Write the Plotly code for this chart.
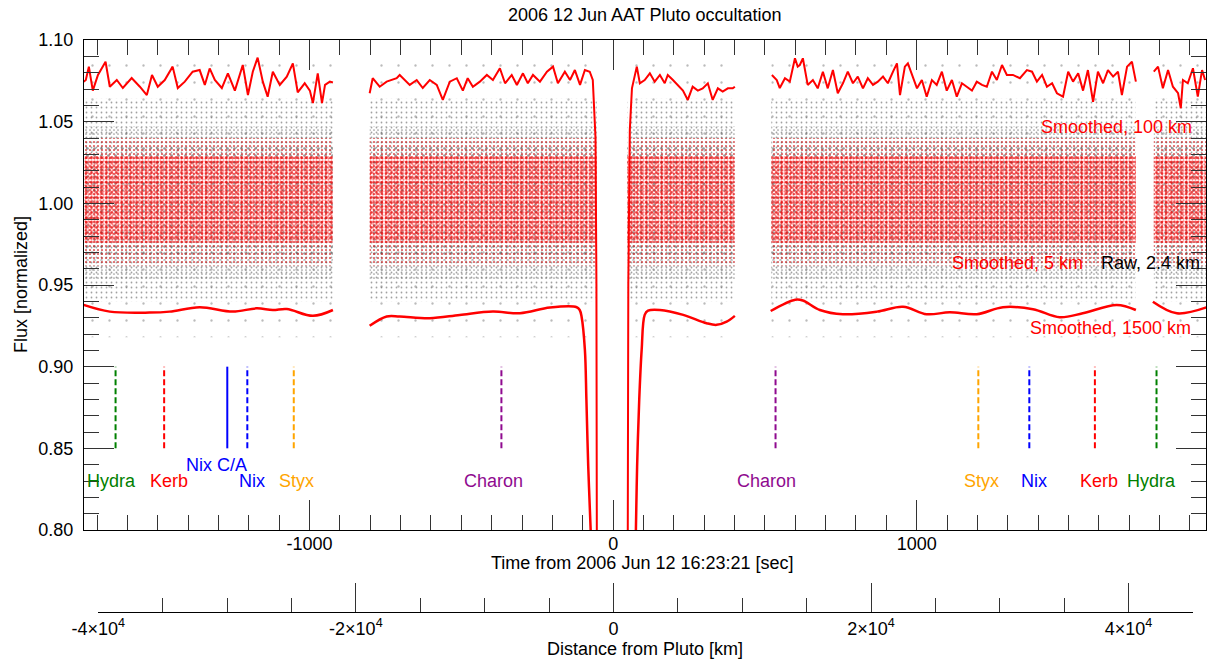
import plotly.graph_objects as go

FONT = "Liberation Sans, Arial, Helvetica, sans-serif"

# ---------------- data ----------------
# Smoothed 100 km light curve (offset +0.075), per data segment: time [s], flux
s100_A_t = [-1744, -1737, -1727, -1714, -1697, -1672, -1658, -1635, -1615, -1586, -1559, -1536, -1519, -1500,
            -1477, -1451, -1434, -1411, -1385, -1362, -1345, -1329, -1312, -1289, -1269, -1246, -1220, -1203,
            -1187, -1171, -1154, -1138, -1121, -1098, -1075, -1055, -1039, -1016, -999, -989, -973, -959, -949,
            -933, -923]
s100_A_f = [1.0745, 1.0755, 1.0837, 1.0690, 1.0786, 1.0867, 1.0714, 1.0755, 1.0706, 1.0767, 1.0714, 1.0663,
            1.0786, 1.0714, 1.0755, 1.0837, 1.0706, 1.0745, 1.0806, 1.0816, 1.0725, 1.0826, 1.0755, 1.0706,
            1.0796, 1.0690, 1.0847, 1.0663, 1.0806, 1.0892, 1.0745, 1.0653, 1.0806, 1.0725, 1.0776, 1.0857,
            1.0680, 1.0735, 1.0690, 1.0614, 1.0796, 1.0614, 1.0725, 1.0745, 1.0740]
s100_B_t = [-802, -792, -769, -746, -713, -703, -670, -647, -627, -604, -581, -561, -538, -515, -495, -479,
            -462, -439, -416, -396, -373, -356, -334, -317, -297, -281, -264, -241, -218, -198, -182, -159,
            -142, -126, -109, -93, -77, -67, -58, -55, -52]
s100_B_f = [1.0674, 1.0766, 1.0714, 1.0745, 1.0766, 1.0786, 1.0725, 1.0755, 1.0706, 1.0755, 1.0725, 1.0633,
            1.0745, 1.0766, 1.0690, 1.0766, 1.0714, 1.0745, 1.0786, 1.0755, 1.0827, 1.0735, 1.0786, 1.0725,
            1.0796, 1.0735, 1.0786, 1.0745, 1.0806, 1.0837, 1.0735, 1.0806, 1.0755, 1.0816, 1.0725, 1.0816,
            1.0806, 1.0755, 1.0400, 0.9500, 0.6000]
s100_C_t = [46, 50, 55, 62, 78, 88, 104, 121, 137, 154, 170, 180, 197, 213, 230, 246, 262, 279, 295, 312, 328,
            345, 361, 378, 394, 401]
s100_C_f = [0.6000, 0.9500, 1.0450, 1.0704, 1.0837, 1.0735, 1.0755, 1.0796, 1.0745, 1.0786, 1.0735, 1.0786,
            1.0755, 1.0725, 1.0690, 1.0633, 1.0714, 1.0690, 1.0704, 1.0735, 1.0633, 1.0704, 1.0684, 1.0704,
            1.0704, 1.0714]
s100_D_t = [523, 539, 549, 566, 582, 599, 608, 615, 625, 641, 658, 674, 691, 707, 724, 740, 757, 773, 790, 806,
            823, 839, 856, 872, 889, 905, 922, 935, 945, 961, 971, 988, 1001, 1017, 1033, 1050, 1066, 1083,
            1099, 1116, 1132, 1149, 1165, 1182, 1198, 1215, 1231, 1248, 1264, 1281, 1297, 1317, 1340, 1363,
            1380, 1396, 1413, 1429, 1446, 1462, 1482, 1499, 1515, 1532, 1548, 1564, 1581, 1597, 1614, 1630,
            1647, 1663, 1676, 1693, 1709, 1722]
s100_D_f = [1.0786, 1.0755, 1.0706, 1.0766, 1.0745, 1.0888, 1.0837, 1.0847, 1.0888, 1.0725, 1.0755, 1.0704,
            1.0806, 1.0704, 1.0816, 1.0674, 1.0735, 1.0806, 1.0735, 1.0776, 1.0704, 1.0766, 1.0725, 1.0745,
            1.0776, 1.0735, 1.0806, 1.0857, 1.0663, 1.0837, 1.0857, 1.0776, 1.0704, 1.0755, 1.0653, 1.0755,
            1.0725, 1.0806, 1.0690, 1.0755, 1.0653, 1.0735, 1.0714, 1.0690, 1.0745, 1.0725, 1.0714, 1.0806,
            1.0755, 1.0847, 1.0786, 1.0786, 1.0766, 1.0816, 1.0806, 1.0745, 1.0786, 1.0714, 1.0735, 1.0674,
            1.0653, 1.0806, 1.0745, 1.0796, 1.0690, 1.0816, 1.0622, 1.0806, 1.0735, 1.0816, 1.0776, 1.0806,
            1.0663, 1.0837, 1.0867, 1.0745]
s100_E_t = [1781, 1795, 1811, 1828, 1844, 1861, 1870, 1877, 1893, 1910, 1926, 1940, 1950]
s100_E_f = [1.0806, 1.0837, 1.0704, 1.0816, 1.0714, 1.0674, 1.0582, 1.0755, 1.0735, 1.0827, 1.0653, 1.0816,
            1.0755]

# Smoothed 1500 km light curve (offset -0.065)
s1500_A_t = [-1744, -1658, -1527, -1461, -1362, -1253, -1174, -1121, -1075, -989, -923]
s1500_A_f = [0.9378, 0.9337, 0.9331, 0.9337, 0.9364, 0.9337, 0.9357, 0.9347, 0.9353, 0.9311, 0.9347]
s1500_B_t = [-802, -746, -703, -604, -505, -396, -307, -208, -120, -110, -104, -93, -88, -82, -74, -60]
s1500_B_f = [0.9250, 0.9307, 0.9307, 0.9297, 0.9317, 0.9337, 0.9327, 0.9362, 0.9364, 0.9347, 0.9307, 0.9103,
             0.8797, 0.8389, 0.8000, 0.7000]
s1500_C_t = [60, 75, 79, 86, 94, 104, 115, 154, 231, 308, 341, 374, 401]
s1500_C_f = [0.7000, 0.8000, 0.8389, 0.8797, 0.9103, 0.9317, 0.9343, 0.9347, 0.9317, 0.9266, 0.9256, 0.9276,
             0.9311]
s1500_D_t = [519, 600, 625, 681, 757, 869, 955, 1033, 1109, 1198, 1284, 1383, 1471, 1547, 1659, 1722]
s1500_D_f = [0.9341, 0.9410, 0.9405, 0.9347, 0.9321, 0.9337, 0.9367, 0.9321, 0.9333, 0.9321, 0.9364, 0.9352,
             0.9303, 0.9327, 0.9378, 0.9347]
s1500_E_t = [1778, 1857, 1956]
s1500_E_f = [0.9398, 0.9327, 0.9364]

# Extent of the raw / 5 km point clouds (time of each data segment)
cloud_start = [-1760, -802, 46, 521, 1781]
cloud_end = [-923, -54, 401, 1722, 1960]
# flux spread of the point clouds (low, high)
raw_sparse = (0.918, 1.090)
raw_outer = (0.940, 1.064)
raw_inner = (0.953, 1.047)
raw_core = (0.965, 1.035)
red_outer = (0.962, 1.040)
red_core = (0.976, 1.029)

# Satellite closest-approach markers
moon_names = ["Hydra", "Kerb", "Nix C/A", "Nix", "Styx", "Charon", "Charon", "Styx", "Nix", "Kerb", "Hydra"]
moon_times = [-1639, -1479, -1271, -1205, -1052, -368, 535, 1203, 1371, 1587, 1790]
moon_colors = ["#008000", "#ff0000", "#0000ff", "#0000ff", "#ffa500", "#8f0a8f", "#8f0a8f", "#ffa500",
               "#0000ff", "#ff0000", "#008000"]
moon_dashes = ["dash", "dash", "solid", "dash", "dash", "dash", "dash", "dash", "dash", "dash", "dash"]
marker_range = [0.85, 0.90]

# Axis ticks
time_ticks = [-1000, 0, 1000]
flux_ticks = [0.80, 0.85, 0.90, 0.95, 1.00, 1.05, 1.10]
dist_ticks = [-40000, -20000, 0, 20000, 40000]
dist_labels = ["-4×10<sup>4</sup>", "-2×10<sup>4</sup>", "0", "2×10<sup>4</sup>", "4×10<sup>4</sup>"]


def join(parts):
    xs, ys = [], []
    for t, f in parts:
        if xs:
            xs.append(None)
            ys.append(None)
        xs.extend(t)
        ys.extend(f)
    return xs, ys


fig = go.Figure()

# point clouds drawn as stippled bands
layers = [
    (raw_sparse, "#777777", 17, 0.015),
    (raw_outer, "#444444", 5, 0.10),
    (raw_inner, "#333333", 4, 0.14),
    (raw_core, "#333333", 7, 0.12),
    (red_outer, "#ff0000", 4, 0.22),
    (red_core, "#ff0000", 3, 0.45),
    (red_core, "#ff0000", 5, 0.28),
]
for (lo, hi), col, sz, sol in layers:
    xs, ys = [], []
    for s, e in zip(cloud_start, cloud_end):
        if xs:
            xs.append(None)
            ys.append(None)
        xs += [s, e, e, s, s]
        ys += [lo, lo, hi, hi, lo]
    fig.add_trace(go.Scatter(x=xs, y=ys, mode="lines", line=dict(width=0), fill="toself",
                             fillcolor="rgba(0,0,0,0)",
                             fillpattern=dict(shape=".", fgcolor=col, size=sz, solidity=sol),
                             hoverinfo="skip", showlegend=False))

x100, y100 = join([(s100_A_t, s100_A_f), (s100_B_t, s100_B_f), (s100_C_t, s100_C_f),
                   (s100_D_t, s100_D_f), (s100_E_t, s100_E_f)])
fig.add_trace(go.Scatter(x=x100, y=y100, mode="lines", line=dict(color="#ff0000", width=2),
                         showlegend=False))

x15, y15 = join([(s1500_A_t, s1500_A_f), (s1500_B_t, s1500_B_f), (s1500_C_t, s1500_C_f),
                 (s1500_D_t, s1500_D_f), (s1500_E_t, s1500_E_f)])
fig.add_trace(go.Scatter(x=x15, y=y15, mode="lines", line=dict(color="#ff0000", width=2.5, shape="spline"),
                         showlegend=False))

for t, col, dash in zip(moon_times, moon_colors, moon_dashes):
    fig.add_trace(go.Scatter(x=[t, t], y=marker_range, mode="lines",
                             line=dict(color=col, width=2, dash="6px,3px" if dash == "dash" else "solid"),
                             showlegend=False, hoverinfo="skip"))

# invisible trace so the distance axis subplot exists
fig.add_trace(go.Scatter(x=[dist_ticks[0], dist_ticks[-1]], y=[0, 0], xaxis="x2", yaxis="y2", mode="lines",
                         line=dict(width=0), showlegend=False, hoverinfo="skip"))

# moon labels
label_x = [-1653, -1463, -1307, -1190, -1043, -395, 505, 1212, 1387, 1600, 1774]
label_y = [0.8297, 0.8297, 0.8399, 0.8297, 0.8297, 0.8297, 0.8297, 0.8297, 0.8297, 0.8297, 0.8297]
for name, col, lx, ly in zip(moon_names, moon_colors, label_x, label_y):
    fig.add_annotation(x=lx, y=ly, xref="x", yref="y", text=name, showarrow=False,
                       font=dict(color=col, size=18, family=FONT), xanchor="center", yanchor="middle")

curve_labels = [
    ("Smoothed, 100 km", "#ff0000", 1912, 1.0468, "right"),
    ("Smoothed, 5 km", "#ff0000", 1556, 0.9635, "right"),
    ("Raw, 2.4 km", "#000000", 1602, 0.9635, "left"),
    ("Smoothed, 1500 km", "#ff0000", 1909, 0.9237, "right"),
]
for txt, col, lx, ly, anc in curve_labels:
    fig.add_annotation(x=lx, y=ly, xref="x", yref="y", text=txt, showarrow=False,
                       font=dict(color=col, size=18, family=FONT), xanchor=anc, yanchor="middle")

# titles
fig.add_annotation(x=0.5, y=1.0437, xref="paper", yref="paper", text="2006 12 Jun AAT Pluto occultation",
                   showarrow=False, font=dict(size=18, family=FONT), xanchor="center", yanchor="middle")
fig.add_annotation(x=0.4982, y=0.0857, xref="paper", yref="paper", text="Time from 2006 Jun 12 16:23:21 [sec]",
                   showarrow=False, font=dict(size=18, family=FONT), xanchor="center", yanchor="middle")
fig.add_annotation(x=0.5, y=-0.0655, xref="paper", yref="paper", text="Distance from Pluto [km]",
                   showarrow=False, font=dict(size=18, family=FONT), xanchor="center", yanchor="middle")
fig.add_annotation(x=-0.0561, y=0.5717, xref="paper", yref="paper", text="Flux [normalized]", textangle=-90,
                   showarrow=False, font=dict(size=18, family=FONT), xanchor="center", yanchor="middle")

tick_col = "#333333"
fig.update_layout(
    width=1210, height=665,
    margin=dict(l=84, r=4, t=40, b=53, autoexpand=False),
    plot_bgcolor="white", paper_bgcolor="white",
    showlegend=False,
    font=dict(family=FONT, size=18, color="black"),
    xaxis=dict(domain=[0, 1], anchor="y", range=[-1743, 1953], tickmode="array", tickvals=time_ticks,
               ticktext=[str(v) for v in time_ticks], ticks="inside", ticklen=30, tickwidth=1,
               tickcolor=tick_col, showline=True, linecolor="black", linewidth=1, mirror="ticks",
               minor=dict(dtick=100, tick0=0, ticklen=15, ticks="inside", tickcolor=tick_col, tickwidth=1),
               showgrid=False, zeroline=False, tickfont=dict(size=18, family=FONT), automargin=False,
               ticklabelstandoff=-3),
    yaxis=dict(domain=[0.14336, 1], anchor="x", range=[0.80, 1.10], tickmode="array", tickvals=flux_ticks,
               ticktext=["%.2f" % v for v in flux_ticks], ticks="inside", ticklen=30, tickwidth=1,
               tickcolor=tick_col, showline=True, linecolor="black", linewidth=1, mirror="ticks",
               minor=dict(dtick=0.01, tick0=0.8, ticklen=15, ticks="inside", tickcolor=tick_col, tickwidth=1),
               showgrid=False, zeroline=False, tickfont=dict(size=18, family=FONT), automargin=False,
               ticklabelstandoff=6),
    xaxis2=dict(domain=[0.01275, 0.9884], anchor="y2", range=[-40000, 45000], tickmode="array",
                tickvals=dist_ticks, ticktext=dist_labels, ticks="inside", ticklen=29, tickwidth=1,
                tickcolor=tick_col, showline=True, linecolor="black", linewidth=1,
                minor=dict(dtick=5000, tick0=0, ticklen=14, ticks="inside", tickcolor=tick_col, tickwidth=1),
                showgrid=False, zeroline=False, tickfont=dict(size=18, family=FONT), automargin=False,
                ticklabelstandoff=0),
    yaxis2=dict(domain=[0, 0.05], anchor="x2", range=[0, 1], visible=False),
)

fig.write_html("out.html", config={"displayModeBar": False},
               post_script="document.body.style.margin='0';document.body.style.padding='0';"
                           "document.body.style.overflow='hidden';"
                           "document.documentElement.style.overflow='hidden';")
